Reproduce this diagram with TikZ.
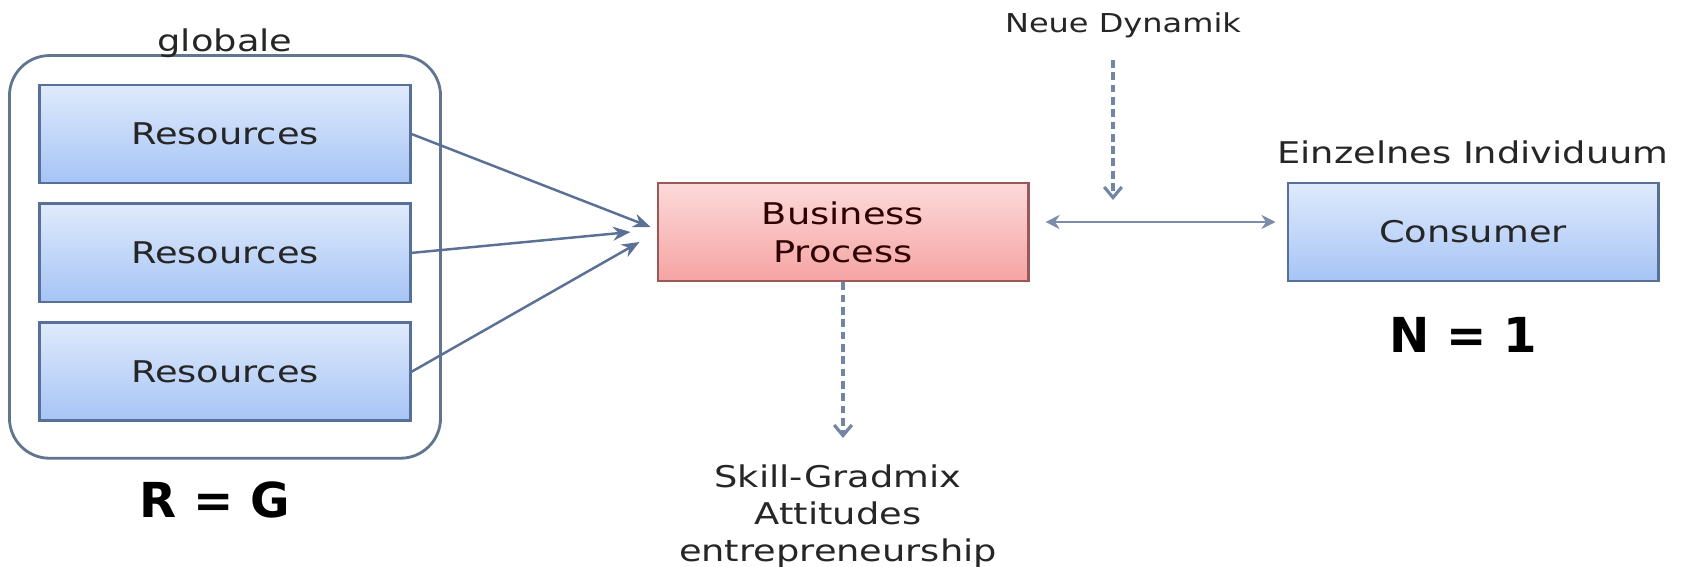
\documentclass[tikz,border=0pt]{standalone}
\usepackage{fontspec}
\setmainfont{DejaVu Sans}[FakeStretch=1.23]
\newfontfamily\bigfont{DejaVu Sans}
\usepackage{xcolor}
\usetikzlibrary{arrows.meta, positioning, fit}

\definecolor{resblue}{HTML}{A6C4F5}
\definecolor{resbluetop}{HTML}{DFEAFC}
\definecolor{resborder}{HTML}{56709A}
\definecolor{bpred}{HTML}{F6A3A3}
\definecolor{bpredtop}{HTML}{FCDADA}
\definecolor{bpborder}{HTML}{9B5858}
\definecolor{outerborder}{HTML}{60758F}
\definecolor{arrowgray}{HTML}{5A7094}

\begin{document}
\begin{tikzpicture}[
      x=0.01cm, y=-0.01cm,
      box/.style={draw, line width=0.8pt, minimum width=3.7cm, minimum height=0.98cm, align=center, text=black!85, font=\fontsize{8.5}{10.8}\selectfont},
      resbox/.style={box, draw=resborder, top color=resbluetop, bottom color=resblue},
      bpbox/.style={box, draw=bpborder, top color=bpredtop, bottom color=bpred, text=black!70!red!60!black},
      group/.style={draw=outerborder, line width=0.8pt, rounded corners=0.4cm, inner xsep=0.29cm, inner ysep=0.32cm},
      lbl/.style={font=\fontsize{8.5}{10.6}\selectfont, align=center, text=black!85},
      bigtxt/.style={font=\bigfont\bfseries\fontsize{13.7}{16}\selectfont},
      arr/.style={-{Stealth[length=5pt, width=4pt]}, line width=0.7pt, draw=arrowgray},
      dbl/.style={{Stealth[length=4pt, width=4pt]}-{Stealth[length=4pt, width=4pt]}, line width=0.6pt, draw=arrowgray!80},
      dasharr/.style={-{Straight Barb[length=3pt, width=5pt]}, line width=0.9pt, draw=arrowgray!85, dash pattern=on 2.2pt off 1.3pt},
    ]
    \path[use as bounding box, fill=white] (0,0) rectangle (1695,566);

    % Nodes
    \node[resbox] (res1) at (225,134) {Resources};
    \node[resbox, below=0.18cm of res1] (res2) {Resources};
    \node[resbox, below=0.18cm of res2] (res3) {Resources};
    \node[group, fit=(res1)(res3), yshift=-0.04cm] (globe) {};
    \node[lbl, above=-0.04cm of globe, inner sep=0pt] (glabel) {globale};
    \node[bigtxt] (rg) at (215,500) {R = G};

    \node[bpbox] (bp) at (843,232) {Business\\Process};
    \node[lbl, anchor=north, inner sep=0pt] (skill) at (838,464) {Skill-Gradmix\\Attitudes\\entrepreneurship};

    \node[resbox] (cons) at (1473,232) {Consumer};
    \node[lbl, above=0.17cm of cons, inner sep=0pt] (indiv) {Einzelnes Individuum};
    \node[bigtxt] (n1) at (1463,335) {N = 1};

    \node[lbl, font=\fontsize{7.4}{9}\selectfont] (dyn) at (1123,25) {Neue Dynamik};
    \coordinate (dynend) at (1113,200);

    % Paths
    \draw[arr] (res1.east) -- ([xshift=-0.06cm, yshift=0.05cm]bp.west);
    \draw[arr] (res2.east) -- ([xshift=-0.26cm]bp.west);
    \draw[arr] (res3.east) -- ([xshift=-0.17cm, yshift=-0.1cm]bp.west);

    \draw[dbl] ([xshift=0.16cm, yshift=0.1cm]bp.east) -- ([xshift=-0.11cm, yshift=0.1cm]cons.west);

    \draw[dasharr, shorten <=0.1cm] (dyn.south -| dynend) -- (dynend);
    \draw[dasharr, shorten >=0.26cm] (bp.south) -- (bp.south |- skill.north);
  \end{tikzpicture}
\end{document}
